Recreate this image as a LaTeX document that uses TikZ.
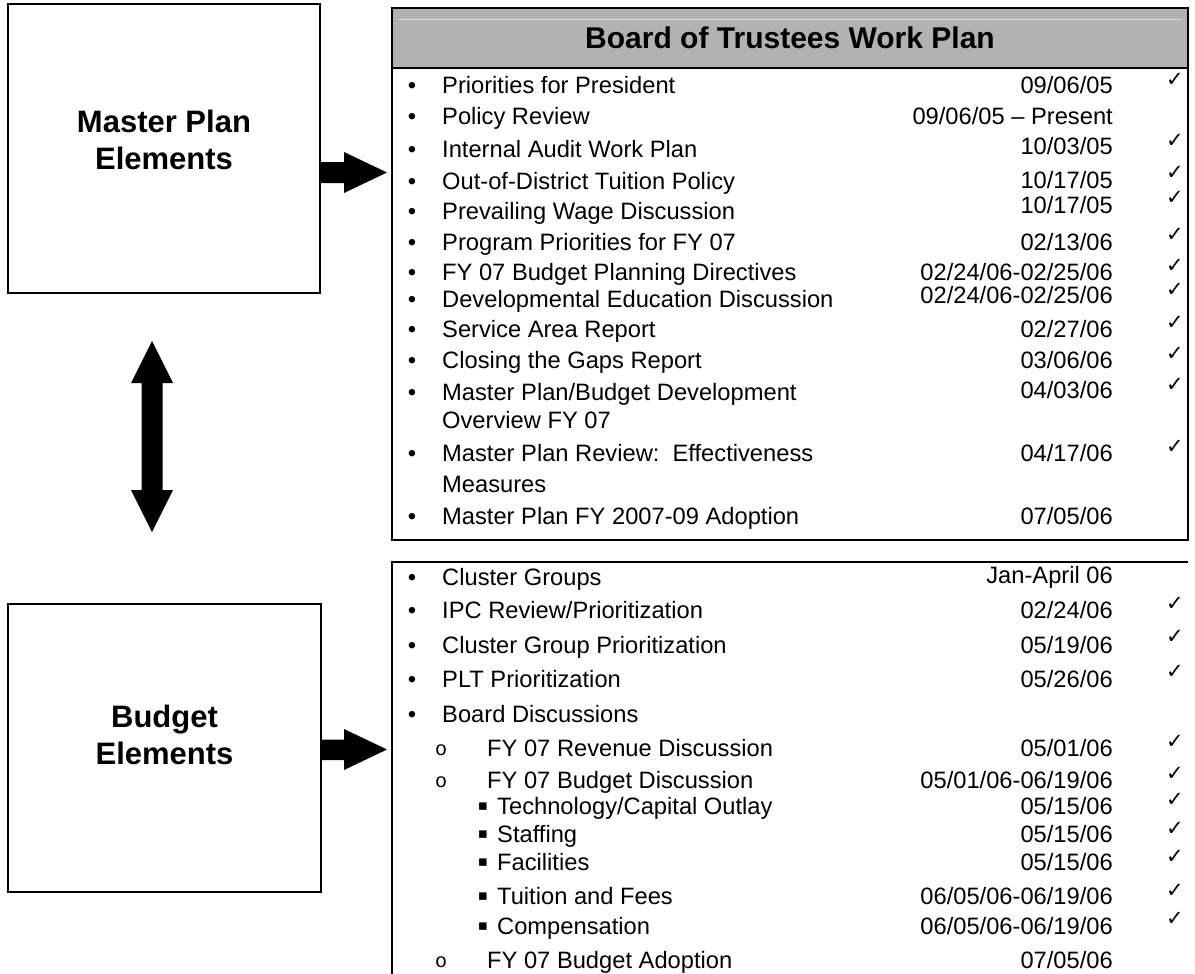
\documentclass[tikz,border=0pt]{standalone}
\usepackage{fontspec}
\setmainfont{Liberation Sans}
\newfontfamily\symfont{DejaVu Sans}
\newfontfamily\bulmono{Liberation Mono}
\newcommand\rowfont{\fontsize{23.7}{28}\selectfont}
\newcommand\lblfont{\bfseries\fontsize{31}{37}\selectfont}
\tikzset{
  box/.style={draw, line width=2pt, inner sep=0},
  lbl/.style={font=\lblfont, align=center, inner sep=0},
  hdr/.style={font=\bfseries\fontsize{30}{34}\selectfont, inner sep=0},
  itm/.style={anchor=base west, font=\rowfont, inner sep=0},
  dt/.style={anchor=base east, font=\rowfont, inner sep=0},
  bul/.style={anchor=base, font=\rowfont, inner sep=0},
  obul/.style={anchor=base, font=\bulmono\fontsize{20}{24}\selectfont, inner sep=0},
  sbul/.style={anchor=center, font=\symfont\fontsize{15}{18}\selectfont, inner sep=0},
  chk/.style={anchor=center, font=\symfont\fontsize{21}{24}\selectfont, inner sep=0},
  rule/.style={line width=2pt},
  blk/.style={fill=black},
}
% #1 name, #2 text y, #3 text x, #4 text, #5 date y, #6 date
\newcommand\wprow[6]{%
  \node[itm] (#1) at (#3,#2+8.5) {#4};
  \node[dt] (#1d) at (1113,#5+8.5) {#6};
}
\newcommand\wpbul[2]{\node[bul] (#1) at (412,#2+8.5) {•};}
\newcommand\wpobul[2]{\node[obul] (#1) at (441,#2+7) {o};}
\newcommand\wpsbul[2]{\node[sbul] (#1) at (483,#2+1) {▪};}
\newcommand\wpchk[2]{\node[chk] (#1) at (1175,#2) {✓};}
\begin{document}
\begin{tikzpicture}[x=1pt, y=-1pt]
\useasboundingbox (0,0) rectangle (1195,974);
% left boxes
\node[box, minimum width=312pt, minimum height=289pt] (mp) at (164,148.5) {};
\node[lbl] (mpt) at (164,140) {Master Plan\\Elements};
\node[box, minimum width=313pt, minimum height=288pt] (be) at (164.5,748) {};
\node[lbl] (bet) at (164.5,735) {Budget\\Elements};
% double arrow
\fill[blk] (152,341) -- (173,383) -- (162.5,383) -- (162.5,490) -- (173,490)
  -- (152,532) -- (131,490) -- (141.5,490) -- (141.5,383) -- (131,383) -- cycle;
% right arrows
\fill[blk] (mp.east |- 0,162) -- (344,162) -- (344,152) -- (387,172.5) -- (344,193)
  -- (344,183) -- (mp.east |- 0,183) -- cycle;
\fill[blk] (be.east |- 0,739.5) -- (344,739.5) -- (344,729) -- (387,749.5) -- (344,770)
  -- (344,760) -- (be.east |- 0,760) -- cycle;
% top table
\fill[black!30] (392,8) rectangle (1188,68);
\draw[black!15, line width=0.8pt] (398,19) -- (1182,19);
\draw[rule] (392,8) rectangle (1188,540);
\draw[rule] (392,68) -- (1188,68);
\node[hdr] (hd) at (790,38) {Board of Trustees Work Plan};
\wpbul{b1}{85}\wprow{r1}{85}{442}{Priorities for President}{85}{09/06/05}\wpchk{c1}{80}
\wpbul{b2}{116}\wprow{r2}{116}{442}{Policy Review}{116}{09/06/05 – Present}
\wpbul{b3}{149}\wprow{r3}{149}{442}{Internal Audit Work Plan}{146}{10/03/05}\wpchk{c3}{141}
\wpbul{b4}{181}\wprow{r4}{181}{442}{Out-of-District Tuition Policy}{180}{10/17/05}\wpchk{c4}{173}
\wpbul{b5}{211}\wprow{r5}{211}{442}{Prevailing Wage Discussion}{205}{10/17/05}\wpchk{c5}{198}
\wpbul{b6}{242}\wprow{r6}{242}{442}{Program Priorities for FY 07}{242}{02/13/06}\wpchk{c6}{235}
\wpbul{b7}{272}\wprow{r7}{272}{442}{FY 07 Budget Planning Directives}{272}{02/24/06-02/25/06}\wpchk{c7}{266}
\wpbul{b8}{299}\wprow{r8}{299}{442}{Developmental Education Discussion}{295}{02/24/06-02/25/06}\wpchk{c8}{290}
\wpbul{b9}{329}\wprow{r9}{329}{442}{Service Area Report}{329}{02/27/06}\wpchk{c9}{323}
\wpbul{b10}{360}\wprow{r10}{360}{442}{Closing the Gaps Report}{360}{03/06/06}\wpchk{c10}{354}
\wpbul{b11}{392}\wprow{r11}{392}{442}{Master Plan/Budget Development}{390}{04/03/06}\wpchk{c11}{385}
\node[itm] (r11b) at (442,420+8.5) {Overview FY 07};
\wpbul{b12}{453}\wprow{r12}{453}{442}{Master Plan Review:\ \ Effectiveness}{453}{04/17/06}\wpchk{c12}{447}
\node[itm] (r12b) at (442,484+8.5) {Measures};
\wpbul{b13}{516}\wprow{r13}{516}{442}{Master Plan FY 2007-09 Adoption}{516}{07/05/06}
% bottom table
\draw[rule] (392,974) -- (392,562) -- (1188,562);
\wpbul{d1}{577}\wprow{s1}{577}{442}{Cluster Groups}{575}{Jan-April 06}
\wpbul{d2}{610}\wprow{s2}{610}{442}{IPC Review/Prioritization}{610}{02/24/06}\wpchk{k2}{604}
\wpbul{d3}{645}\wprow{s3}{645}{442}{Cluster Group Prioritization}{645}{05/19/06}\wpchk{k3}{637}
\wpbul{d4}{679}\wprow{s4}{679}{442}{PLT Prioritization}{679}{05/26/06}\wpchk{k4}{672}
\wpbul{d5}{714}\wprow{s5}{714}{442}{Board Discussions}{714}{}
\wpobul{o6}{748}\wprow{s6}{748}{487}{FY 07 Revenue Discussion}{748}{05/01/06}\wpchk{k6}{742}
\wpobul{o7}{780}\wprow{s7}{780}{487}{FY 07 Budget Discussion}{780}{05/01/06-06/19/06}\wpchk{k7}{774}
\wpsbul{q8}{806}\wprow{s8}{806}{497}{Technology/Capital Outlay}{806}{05/15/06}\wpchk{k8}{800}
\wpsbul{q9}{834}\wprow{s9}{834}{497}{Staffing}{834}{05/15/06}\wpchk{k9}{829}
\wpsbul{q10}{862}\wprow{s10}{862}{497}{Facilities}{862}{05/15/06}\wpchk{k10}{857}
\wpsbul{q11}{896}\wprow{s11}{896}{497}{Tuition and Fees}{896}{06/05/06-06/19/06}\wpchk{k11}{891}
\wpsbul{q12}{926}\wprow{s12}{926}{497}{Compensation}{926}{06/05/06-06/19/06}\wpchk{k12}{919}
\wpobul{o13}{960}\wprow{s13}{960}{487}{FY 07 Budget Adoption}{960}{07/05/06}
\end{tikzpicture}
\end{document}
